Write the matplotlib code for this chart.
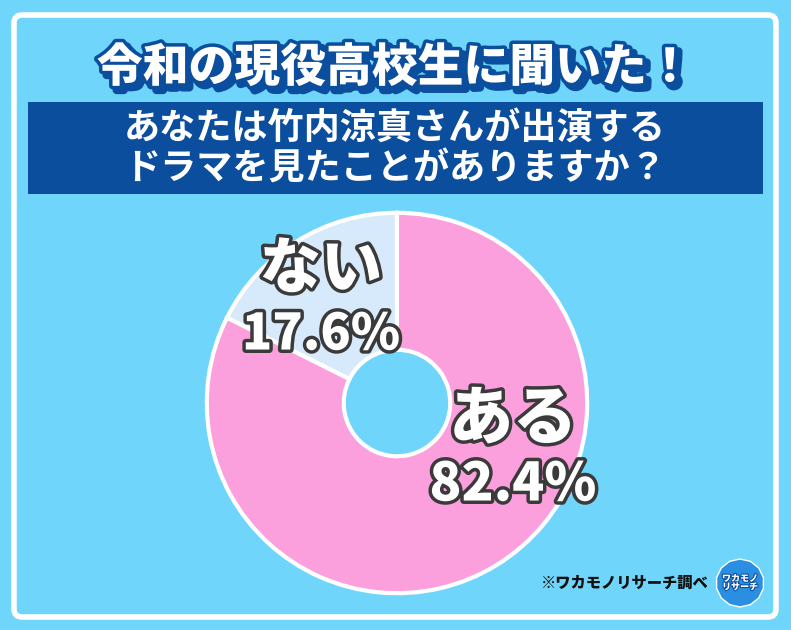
import matplotlib.pyplot as plt
import matplotlib.patheffects as pe
from matplotlib.patches import FancyBboxPatch, Rectangle, Circle, RegularPolygon

plt.rcParams['font.family'] = ['Noto Sans CJK JP', 'DejaVu Sans']

labels = ["ない", "ある"]
values = [17.6, 82.4]
colors = ["#d6eafb", "#fc9fdd"]

title = "令和の現役高校生に聞いた！"
question = "あなたは竹内涼真さんが出演する\nドラマを見たことがありますか？"
source = "※ワカモノリサーチ調べ"

BG = "#6fd5fa"
NAVY = "#0b4e9d"


def main():
    fig = plt.figure(figsize=(7.91, 6.30), dpi=100)
    fig.patch.set_facecolor(BG)

    # background frame in pixel coords
    bg = fig.add_axes([0, 0, 1, 1])
    bg.set_xlim(0, 791)
    bg.set_ylim(630, 0)
    bg.axis('off')
    bg.add_patch(FancyBboxPatch((14, 15), 762, 602, boxstyle="round,pad=0,rounding_size=8",
                                facecolor=BG, edgecolor="white", linewidth=4))
    bg.add_patch(Rectangle((28, 102), 735, 92, facecolor=NAVY, edgecolor="none"))

    # title: navy outline + offset navy shadow
    bg.text(395, 68, title, ha='center', va='center', fontsize=33, fontweight='black',
            color='white',
            path_effects=[pe.Stroke(offset=(3, -3), linewidth=6, foreground=NAVY),
                          pe.Stroke(linewidth=5, foreground=NAVY),
                          pe.Normal()])
    bg.text(395, 149, question, ha='center', va='center', fontsize=26, fontweight='bold',
            color='white', linespacing=1.1)

    bg.text(625, 583, source, ha='center', va='center', fontsize=11, fontweight='black',
            color='#111111')
    # logo
    bg.add_patch(RegularPolygon((740, 583), numVertices=14, radius=24, facecolor="#2a8fe0",
                                edgecolor="white", linewidth=1))
    bg.add_patch(Circle((740, 583), 18, facecolor="#2a8fe0", edgecolor="none"))
    bg.text(740, 583, "ワカモノ\nリサーチ", ha='center', va='center', fontsize=6.5,
            fontweight='black', color='white', linespacing=0.9,
            path_effects=[pe.withStroke(linewidth=1.5, foreground=NAVY)])

    # donut
    ax = fig.add_axes([203 / 791, (630 - 597) / 630, 388 / 791, 388 / 630])
    ax.pie(values, colors=colors, startangle=90, counterclock=True,
           wedgeprops=dict(width=0.72, edgecolor='white', linewidth=3))
    ax.set_aspect('equal')
    ax.set_xlim(-1.02, 1.02)
    ax.set_ylim(-1.02, 1.02)

    outline = [pe.withStroke(linewidth=5, foreground='#3a3a3a')]
    ax.text(-0.40, 0.70, labels[0], ha='center', va='center', fontsize=44, fontweight='black',
            color='white', path_effects=outline)
    ax.text(-0.40, 0.36, f"{values[0]}%", ha='center', va='center', fontsize=36,
            fontweight='black', color='white', path_effects=outline)
    ax.text(0.61, -0.09, labels[1], ha='center', va='center', fontsize=46, fontweight='black',
            color='white', path_effects=outline)
    ax.text(0.61, -0.43, f"{values[1]}%", ha='center', va='center', fontsize=38,
            fontweight='black', color='white', path_effects=outline)

    plt.savefig("out.png", dpi=100, facecolor=BG)


if __name__ == "__main__":
    main()
